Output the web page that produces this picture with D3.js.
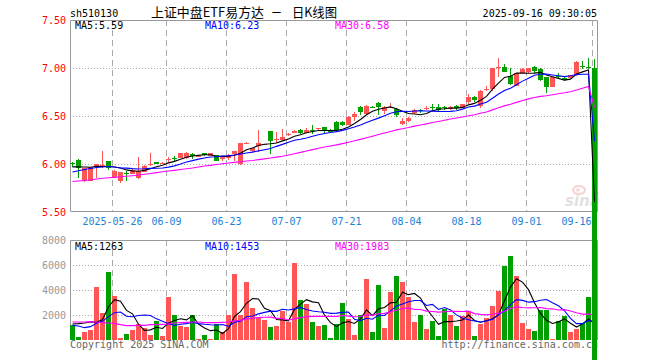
<!DOCTYPE html>
<html>
<head>
<meta charset="utf-8">
<script src="https://cdn.jsdelivr.net/npm/d3@7"></script>
<style>
html, body { margin: 0; padding: 0; background: #fff; }
svg { display: block; }
text { font-family: "DejaVu Sans Mono", monospace; font-size: 10px; }
</style>
</head>
<body>
<div id="chart"></div>
<script>
// trading days shown on the chart
var dates = [
    "2025-05-15","2025-05-16","2025-05-19","2025-05-20","2025-05-21","2025-05-22","2025-05-23",
    "2025-05-26","2025-05-27","2025-05-28","2025-05-29","2025-05-30",
    "2025-06-03","2025-06-04","2025-06-05","2025-06-06","2025-06-09","2025-06-10","2025-06-11",
    "2025-06-12","2025-06-13","2025-06-16","2025-06-17","2025-06-18","2025-06-19","2025-06-20",
    "2025-06-23","2025-06-24","2025-06-25","2025-06-26","2025-06-27","2025-06-30",
    "2025-07-01","2025-07-02","2025-07-03","2025-07-04","2025-07-07","2025-07-08","2025-07-09",
    "2025-07-10","2025-07-11","2025-07-14","2025-07-15","2025-07-16","2025-07-17","2025-07-18",
    "2025-07-21","2025-07-22","2025-07-23","2025-07-24","2025-07-25","2025-07-28","2025-07-29",
    "2025-07-30","2025-07-31","2025-08-01","2025-08-04","2025-08-05","2025-08-06","2025-08-07",
    "2025-08-08","2025-08-11","2025-08-12","2025-08-13","2025-08-14","2025-08-15","2025-08-18",
    "2025-08-19","2025-08-20","2025-08-21","2025-08-22","2025-08-25","2025-08-26","2025-08-27",
    "2025-08-28","2025-08-29","2025-09-01","2025-09-02","2025-09-03","2025-09-04","2025-09-05",
    "2025-09-08","2025-09-09","2025-09-10","2025-09-11","2025-09-12","2025-09-15","2025-09-16"
];

var opens = [
    6.010, 6.042, 5.830, 5.823, 5.982, 5.985, 6.030, 5.868, 5.823, 5.905,
    5.900, 5.852, 5.920, 5.985, 6.022, 6.008, 6.050, 6.066, 6.065, 6.066,
    6.107, 6.080, 6.115, 6.087, 6.092, 6.050, 6.060, 6.100, 6.000, 6.215,
    6.140, 6.190, 6.200, 6.340, 6.247, 6.247, 6.305, 6.323, 6.357, 6.326,
    6.352, 6.365, 6.385, 6.357, 6.440, 6.440, 6.410, 6.486, 6.594, 6.524,
    6.595, 6.639, 6.555, 6.590, 6.573, 6.420, 6.450, 6.528, 6.558, 6.570,
    6.590, 6.597, 6.590, 6.573, 6.604, 6.586, 6.649, 6.698, 6.604, 6.775,
    6.781, 7.000, 7.014, 6.920, 6.815, 6.948, 6.955, 7.010, 6.993, 6.906,
    6.802, 6.920, 6.896, 6.899, 6.927, 7.025, 7.015, 7.000
];
var highs = [
    6.025, 6.050, 5.960, 5.970, 6.005, 6.135, 6.035, 5.940, 5.920, 5.925,
    5.945, 6.076, 5.985, 6.118, 6.025, 6.020, 6.070, 6.087, 6.115, 6.120,
    6.110, 6.090, 6.117, 6.118, 6.095, 6.076, 6.100, 6.140, 6.220, 6.225,
    6.170, 6.350, 6.210, 6.345, 6.330, 6.360, 6.320, 6.350, 6.360, 6.375,
    6.410, 6.380, 6.390, 6.360, 6.445, 6.445, 6.495, 6.540, 6.600, 6.610,
    6.600, 6.645, 6.600, 6.640, 6.580, 6.480, 6.485, 6.570, 6.573, 6.600,
    6.620, 6.620, 6.600, 6.600, 6.610, 6.630, 6.730, 6.710, 6.770, 6.815,
    7.000, 7.107, 7.040, 7.000, 6.950, 7.000, 7.005, 7.020, 7.000, 6.910,
    6.910, 6.945, 6.920, 6.930, 7.070, 7.070, 7.104, 7.090
];
var lows = [
    5.970, 5.851, 5.810, 5.820, 5.850, 5.955, 5.940, 5.865, 5.805, 5.826,
    5.895, 5.845, 5.915, 5.980, 5.998, 6.000, 6.020, 6.028, 6.060, 6.050,
    6.055, 6.075, 6.085, 6.085, 6.030, 6.035, 6.045, 6.030, 5.985, 6.210,
    6.130, 6.130, 6.195, 6.100, 6.220, 6.245, 6.295, 6.320, 6.315, 6.320,
    6.315, 6.355, 6.320, 6.330, 6.330, 6.400, 6.405, 6.445, 6.514, 6.520,
    6.580, 6.514, 6.520, 6.580, 6.490, 6.410, 6.438, 6.520, 6.530, 6.560,
    6.550, 6.550, 6.560, 6.565, 6.560, 6.580, 6.630, 6.650, 6.580, 6.760,
    6.760, 6.910, 6.955, 6.820, 6.810, 6.945, 6.950, 6.950, 6.865, 6.743,
    6.800, 6.895, 6.860, 6.895, 6.920, 6.990, 6.990, 0.000
];
var closes = [
    6.000, 5.962, 5.955, 5.966, 6.000, 5.990, 5.955, 5.930, 5.917, 5.900,
    5.940, 5.932, 5.980, 6.005, 6.003, 6.015, 6.055, 6.060, 6.110, 6.115,
    6.080, 6.085, 6.090, 6.115, 6.035, 6.073, 6.097, 6.135, 6.219, 6.220,
    6.167, 6.219, 6.205, 6.243, 6.260, 6.278, 6.315, 6.347, 6.326, 6.357,
    6.348, 6.370, 6.340, 6.333, 6.357, 6.410, 6.490, 6.521, 6.539, 6.604,
    6.590, 6.594, 6.590, 6.594, 6.514, 6.450, 6.480, 6.563, 6.555, 6.585,
    6.586, 6.563, 6.586, 6.597, 6.580, 6.622, 6.695, 6.663, 6.764, 6.780,
    6.997, 7.007, 6.960, 6.830, 6.944, 6.993, 7.000, 6.965, 6.872, 6.802,
    6.906, 6.915, 6.872, 6.924, 7.066, 7.021, 7.010, 0.000
];
var volumes = [
    1227, 267, 667, 773, 4213, 2187, 5467, 3493, 187, 507,
    827, 1307, 987, 427, 1520, 347, 3467, 2027, 1147, 1067,
    2027, 107, 427, 107, 1307, 667, 2027, 5307, 2027, 4667,
    2587, 1787, 1627, 1067, 1147, 2347, 1467, 6187, 3227, 2907,
    1467, 1147, 1227, 187, 1307, 2987, 1707, 427, 2027, 4907,
    667, 4427, 987, 3867, 5147, 4667, 3467, 1467, 2027, 907,
    1547, 347, 2507, 2027, 1147, 1947, 2347, 347, 1307, 1787,
    2747, 3947, 5947, 6747, 5147, 1387, 907, 747, 2427, 2427,
    107, 1547, 1947, 667, 907, 1387, 3467, 30
];

// moving average values before a full window exists
var ma5Head = [5.970, 5.970, 5.968, 5.966];
var ma10Head = [5.917, 5.930, 5.943, 5.953, 5.964, 5.969, 5.974, 5.969, 5.958];
var ma30Head = [5.818, 5.823, 5.828, 5.833, 5.844, 5.851, 5.856, 5.861, 5.867, 5.872,
    5.878, 5.885, 5.893, 5.901, 5.910, 5.919, 5.927, 5.934, 5.942, 5.950,
    5.958, 5.969, 5.979, 5.986, 5.995, 6.003, 6.010, 6.017, 6.023];
var volMa5Head = [1280, 1307, 1360, 1440];
var volMa10Head = [1173, 1120, 987, 1067, 1333, 1493, 1867, 2187, 2240];
var volMa30Head = [1440, 1440, 1440, 1467, 1440, 1387, 1360, 1333, 1227, 1147,
    1147, 1173, 1173, 1227, 1227, 1253, 1280, 1360, 1387, 1413,
    1440, 1440, 1387, 1387, 1387, 1413, 1440, 1547, 1573];

var priceTicks = [7.5, 7.0, 6.5, 6.0, 5.5];
var volumeTicks = [8000, 6000, 4000, 2000];
var dateTicks = ["2025-05-26","2025-06-09","2025-06-23","2025-07-07","2025-07-21",
    "2025-08-04","2025-08-18","2025-09-01","2025-09-16"];
var priceMaLegend = ["5.59", "6.23", "6.58"];
var volumeMaLegend = ["1263", "1453", "1983"];

var RED = "#ff5555", GREEN = "#00a000";
var maColors = ["#000000", "#0000ff", "#ff00ff"];
var gridColor = "#aaaaaa";

var width = 660, height = 360;
var left = 70, right = 597;
var pTop = 20, pBottom = 212;
var vTop = 240, vBottom = 340;

var svg = d3.select("#chart").append("svg")
    .attr("width", width)
    .attr("height", height);

var x = d3.scaleBand()
    .domain(dates)
    .range([left - 0.5, right + 0.5])
    .paddingInner(1 / 6)
    .paddingOuter(1 / 12);
var cx = function(d) { return x(d) + x.bandwidth() / 2; };

var y = d3.scaleLinear().domain([5.5, 7.5]).range([pBottom, pTop]);
var yv = d3.scaleLinear().domain([0, 8000]).range([vBottom, vTop]);

function movingAverage(values, n, head) {
    return values.map(function(v, i) {
        if (i < n - 1) return head[i];
        return d3.mean(values.slice(i - n + 1, i + 1));
    });
}

var priceMa = [movingAverage(closes, 5, ma5Head), movingAverage(closes, 10, ma10Head), movingAverage(closes, 30, ma30Head)];
var volMa = [movingAverage(volumes, 5, volMa5Head), movingAverage(volumes, 10, volMa10Head), movingAverage(volumes, 30, volMa30Head)];

// ---- header texts
svg.append("text").attr("x", 70).attr("y", 16.5).text("sh510130");
var titleParts = [["上证中盘ETF易方达", 151, 113], ["一", 272, 9], ["日K线图", 292, 45]];
titleParts.forEach(function(p) {
    svg.append("text")
        .attr("x", p[1]).attr("y", 16.5)
        .style("font-family", "'Noto Sans CJK SC'")
        .style("font-size", "13px")
        .attr("textLength", p[2])
        .attr("lengthAdjust", "spacingAndGlyphs")
        .text(p[0]);
});
svg.append("text").attr("x", 597).attr("y", 16.5)
    .style("text-anchor", "end")
    .text("2025-09-16 09:30:05");

// ---- grids
var grid = svg.append("g");
[[pTop, pBottom - 1], [vTop, vBottom]].forEach(function(r) {
    grid.selectAll(null)
        .data(dateTicks)
        .enter().append("line")
        .attr("x1", function(d) { return x(d) + 0.5; })
        .attr("x2", function(d) { return x(d) + 0.5; })
        .attr("y1", r[0]).attr("y2", r[1])
        .style("stroke", gridColor)
        .style("stroke-dasharray", "6,4");
});

grid.selectAll(".pgrid")
    .data(priceTicks.slice(1, -1))
    .enter().append("line")
    .attr("x1", left).attr("x2", right)
    .attr("y1", function(d) { return Math.round(y(d)) + 0.5; })
    .attr("y2", function(d) { return Math.round(y(d)) + 0.5; })
    .style("stroke", gridColor)
    .style("stroke-dasharray", "1,2");

grid.selectAll(".vgrid")
    .data(volumeTicks.slice(1))
    .enter().append("line")
    .attr("x1", left).attr("x2", right)
    .attr("y1", function(d) { return Math.round(yv(d)) + 0.5; })
    .attr("y2", function(d) { return Math.round(yv(d)) + 0.5; })
    .style("stroke", gridColor)
    .style("stroke-dasharray", "1,2");

// panel borders
svg.append("path")
    .attr("d", "M" + (left + 0.5) + "," + (pTop + 0.5) + "H" + (right + 0.5) + "V" + (pBottom - 0.5) +
        "H" + (left + 0.5) + "Z")
    .style("fill", "none").style("stroke", "#999");
svg.append("path")
    .attr("d", "M" + (left + 0.5) + "," + vBottom + "V" + (vTop + 0.5) + "H" + (right + 0.5) + "V" + vBottom)
    .style("fill", "none").style("stroke", "#999");

// ---- axis labels
svg.selectAll(".plabel")
    .data(priceTicks)
    .enter().append("text")
    .attr("x", 66)
    .attr("y", function(d) { return y(d) + 4; })
    .style("text-anchor", "end")
    .style("fill", "#f00")
    .text(function(d) { return d.toFixed(2); });

svg.selectAll(".vlabel")
    .data(volumeTicks)
    .enter().append("text")
    .attr("x", 66)
    .attr("y", function(d) { return yv(d) + 4; })
    .style("text-anchor", "end")
    .style("fill", "#999")
    .text(function(d) { return d; });

svg.selectAll(".dlabel")
    .data(dateTicks)
    .enter().append("text")
    .attr("y", 225)
    .style("fill", "#1a82d6")
    .each(function(d, i) {
        var label = i === 0 ? d : d.slice(5);
        var gx = x(d) + 0.5;
        var half = label.length * 3;
        var t = d3.select(this).text(label);
        if (gx + half > right) t.attr("x", gx - 1).style("text-anchor", "end");
        else t.attr("x", gx).style("text-anchor", "middle");
    });

// ---- legends
var legendX = [75, 205, 335];
["MA5:", "MA10:", "MA30:"].forEach(function(name, k) {
    svg.append("text").attr("x", legendX[k]).attr("y", 29)
        .style("fill", maColors[k]).text(name + priceMaLegend[k]);
    svg.append("text").attr("x", legendX[k]).attr("y", 250)
        .style("fill", maColors[k]).text(name + volumeMaLegend[k]);
});

// ---- footer texts and watermark
svg.append("text").attr("x", 70).attr("y", 348).style("fill", "#666").text("Copyright 2025 SINA.COM");
svg.append("text").attr("x", 598).attr("y", 348).style("fill", "#666")
    .style("text-anchor", "end").text("http://finance.sina.com.cn");

var mark = svg.append("g").style("opacity", 0.35);
mark.append("ellipse").attr("cx", 579).attr("cy", 190).attr("rx", 6).attr("ry", 4)
    .style("fill", "none").style("stroke", "#f08080").style("stroke-width", 2);
mark.append("circle").attr("cx", 578).attr("cy", 190).attr("r", 1.8).style("fill", "#f08080");
mark.append("text").attr("x", 565).attr("y", 206)
    .style("font-family", "'DejaVu Sans'").style("font-size", "15px")
    .style("font-style", "italic").style("font-weight", "bold")
    .style("fill", "#aaa").text("sina");

// ---- volume bars
var colorOf = function(i) { return closes[i] >= opens[i] ? RED : GREEN; };

svg.append("g").selectAll("rect")
    .data(dates)
    .enter().append("rect")
    .attr("x", function(d) { return x(d); })
    .attr("width", x.bandwidth())
    .attr("y", function(d, i) { return Math.round(yv(volumes[i])); })
    .attr("height", function(d, i) { return vBottom - Math.round(yv(volumes[i])); })
    .style("fill", function(d, i) { return colorOf(i); });

var volLine = function(vals) {
    return d3.line()
        .x(function(d, i) { return cx(dates[i]); })
        .y(function(d) { return yv(d); })(vals);
};
volMa.forEach(function(vals, k) {
    svg.append("path").attr("d", volLine(vals))
        .style("fill", "none").style("stroke", maColors[k]).style("stroke-width", 1.1);
});

// ---- candles
var candles = svg.append("g").selectAll("g")
    .data(dates)
    .enter().append("g");

candles.append("line")
    .attr("x1", cx).attr("x2", cx)
    .attr("y1", function(d, i) { return Math.round(y(highs[i])); })
    .attr("y2", function(d, i) { return Math.round(y(lows[i])); })
    .style("stroke", function(d, i) { return colorOf(i); });

candles.append("rect")
    .attr("x", function(d) { return x(d); })
    .attr("width", x.bandwidth())
    .attr("y", function(d, i) { return Math.round(y(Math.max(opens[i], closes[i]))); })
    .attr("height", function(d, i) {
        var top = Math.round(y(Math.max(opens[i], closes[i])));
        var bot = Math.round(y(Math.min(opens[i], closes[i])));
        return Math.max(1, bot - top);
    })
    .style("fill", function(d, i) { return colorOf(i); });

var priceLine = function(vals) {
    return d3.line()
        .x(function(d, i) { return cx(dates[i]); })
        .y(function(d) { return y(d); })(vals);
};
priceMa.forEach(function(vals, k) {
    svg.append("path").attr("d", priceLine(vals))
        .style("fill", "none").style("stroke", maColors[k]).style("stroke-width", 1.1);
});
</script>
</body>
</html>
